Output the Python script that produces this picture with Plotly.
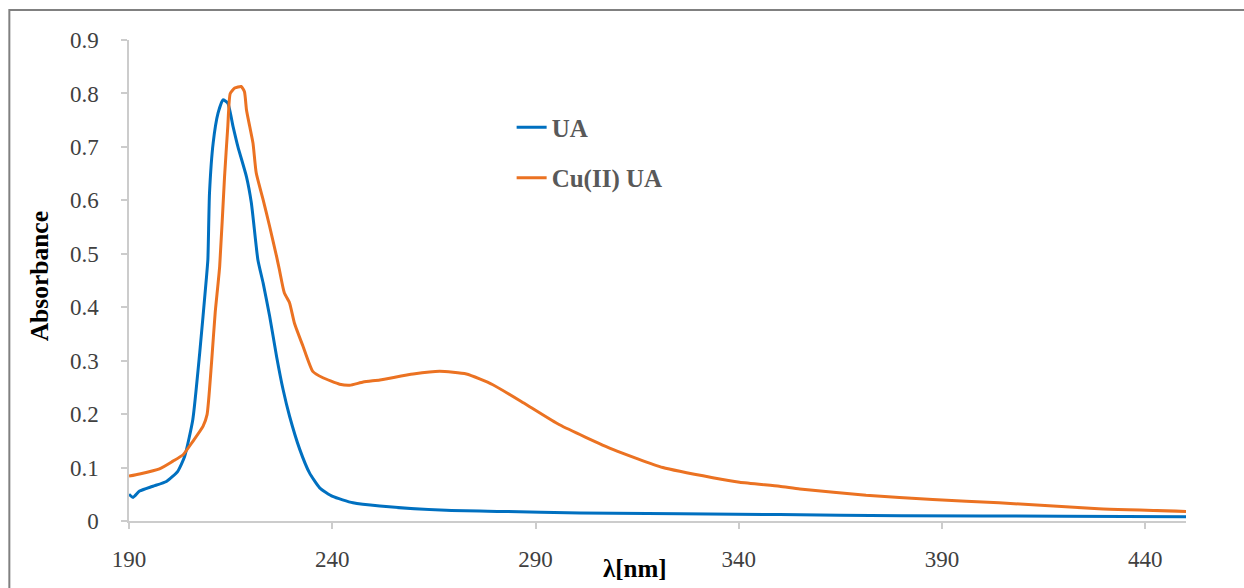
import plotly.graph_objects as go

# UV-Vis absorption spectra
ua_nm = [190, 191, 192.6, 195.9, 199.2, 202, 203.7, 205.7, 207.4, 209, 209.4, 209.8,
         210.7, 211.9, 213.1, 214.3, 215.6, 216.8, 218.9, 220.1, 221.7, 223, 224.6,
         226.3, 227.9, 229.5, 232, 234.4, 236.9, 240.1, 245.1, 251.7, 268, 281, 301,
         350, 380, 420, 450]
ua_abs = [0.050, 0.044, 0.056, 0.065, 0.074, 0.093, 0.121, 0.19, 0.315, 0.451, 0.489,
          0.613, 0.707, 0.763, 0.788, 0.782, 0.738, 0.70, 0.644, 0.595, 0.489, 0.445,
          0.383, 0.308, 0.246, 0.196, 0.134, 0.090, 0.062, 0.046, 0.034, 0.028, 0.020,
          0.018, 0.015, 0.012, 0.010, 0.009, 0.008]

cu_nm = [190, 192.6, 197.5, 200.8, 203.3, 205.7, 208.2, 209.2, 210.3, 211.2, 212.3,
         213.5, 214.3, 214.9, 216, 217.6, 218.4, 218.9, 219.7, 220.5, 221.3, 223, 224.6,
         226.3, 227, 228.2, 229.5, 230.7, 232.8, 235.2, 237.7, 241.8, 244.3, 247.6,
         251.7, 259.9, 266.4, 273, 279.5, 287.7, 295.9, 309, 321.3, 333.6, 340.2, 350,
         355, 371.3, 387.7, 404, 428.5, 450]
cu_abs = [0.084, 0.088, 0.0975, 0.112, 0.124, 0.149, 0.177, 0.199, 0.296, 0.39, 0.476,
          0.644, 0.738, 0.80, 0.810, 0.813, 0.803, 0.769, 0.738, 0.707, 0.651, 0.601,
          0.551, 0.495, 0.470, 0.427, 0.408, 0.370, 0.327, 0.280, 0.268, 0.256, 0.254,
          0.260, 0.264, 0.275, 0.280, 0.275, 0.255, 0.218, 0.180, 0.134, 0.100, 0.081,
          0.0725, 0.065, 0.060, 0.048, 0.040, 0.034, 0.023, 0.018]

x_ticks = [190, 240, 290, 340, 390, 440]
y_ticks = [0, 0.1, 0.2, 0.3, 0.4, 0.5, 0.6, 0.7, 0.8, 0.9]
y_tick_text = ["0", "0.1", "0.2", "0.3", "0.4", "0.5", "0.6", "0.7", "0.8", "0.9"]

SERIF = "Liberation Serif, Times New Roman, serif"

fig = go.Figure()
fig.add_trace(go.Scatter(x=ua_nm, y=ua_abs, mode="lines", name="UA",
                         legendgroup="a",
                         line=dict(color="#0070C0", width=3, shape="spline",
                                   smoothing=0.5)))
fig.add_trace(go.Scatter(x=cu_nm, y=cu_abs, mode="lines", name="Cu(II) UA",
                         legendgroup="b",
                         line=dict(color="#EB7222", width=3, shape="spline",
                                   smoothing=0.5)))

axis_common = dict(showgrid=False, zeroline=False, showline=True,
                   linecolor="#cccccc", linewidth=1.5,
                   ticks="outside", ticklen=6, tickcolor="#cccccc", tickwidth=1.5,
                   tickfont=dict(family=SERIF, size=23, color="#404040"))

fig.update_layout(
    width=1244, height=588,
    margin=dict(l=129, r=58, t=40, b=67),
    paper_bgcolor="white", plot_bgcolor="white",
    xaxis=dict(range=[190, 450], tickvals=x_ticks, ticklabelstandoff=11,
               **axis_common),
    yaxis=dict(range=[0, 0.9], tickvals=y_ticks, ticktext=y_tick_text,
               ticklabelstandoff=18, **axis_common),
    legend=dict(x=0.362, y=0.866, xanchor="left", yanchor="top",
                bgcolor="rgba(0,0,0,0)", tracegroupgap=15,
                font=dict(family=SERIF, size=25, color="#595959", weight="bold")),
    annotations=[
        dict(text="<b>Absorbance</b>", xref="paper", yref="paper",
             x=-0.0845, y=0.508, xanchor="center", yanchor="middle",
             showarrow=False, textangle=-90,
             font=dict(family=SERIF, size=25.5, color="black")),
        dict(text="<b>λ[nm]</b>", xref="paper", yref="paper",
             x=0.4786, y=-0.0987, xanchor="center", yanchor="middle",
             showarrow=False,
             font=dict(family=SERIF, size=25, color="black")),
    ],
    shapes=[
        dict(type="rect", xref="paper", yref="paper",
             x0=-0.1132, y0=-0.2, x1=1.2, y1=1.0623,
             line=dict(color="#808080", width=2), fillcolor="rgba(0,0,0,0)",
             layer="below"),
    ],
)

fig.write_html("out.html")
